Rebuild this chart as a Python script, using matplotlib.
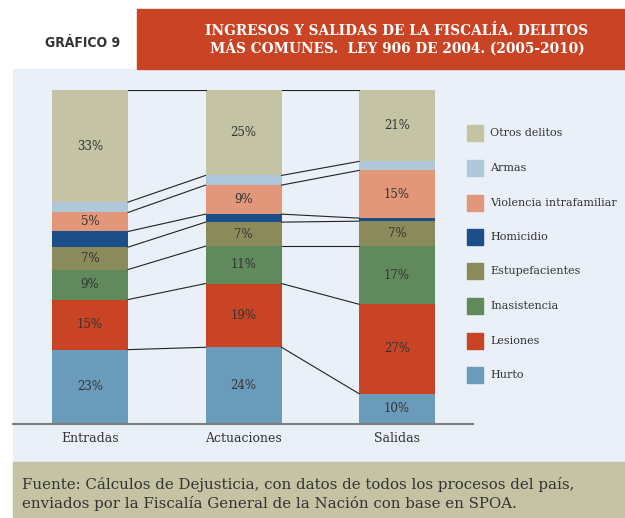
import numpy as np
import matplotlib
matplotlib.use('Agg')
import matplotlib.pyplot as plt
from matplotlib.patches import Rectangle

# Datos (porcentaje de cada delito por etapa)
categorias = ['Entradas', 'Actuaciones', 'Salidas']
delitos = ['Hurto', 'Lesiones', 'Inasistencia', 'Estupefacientes', 'Homicidio',
           'Violencia intrafamiliar', 'Armas', 'Otros delitos']
hurto = [22.2, 22.9, 9.0]
lesiones = [15.0, 19.1, 26.8]
inasistencia = [9.0, 11.2, 17.4]
estupefacientes = [6.7, 7.2, 7.5]
homicidio = [4.7, 2.4, 0.9]
violencia = [5.7, 8.7, 14.3]
armas = [3.1, 2.9, 2.7]
otros = [33.6, 25.6, 21.4]

etiquetas = [['23%', '24%', '10%'],
             ['15%', '19%', '27%'],
             ['9%', '11%', '17%'],
             ['7%', '7%', '7%'],
             ['', '', ''],
             ['5%', '9%', '15%'],
             ['', '', ''],
             ['33%', '25%', '21%']]

colores = ['#6A9BBB', '#C94424', '#608A5C', '#8B8A5A', '#1C4F8A',
           '#E2967A', '#AEC8DA', '#C4C3A4']

series = [hurto, lesiones, inasistencia, estupefacientes, homicidio,
          violencia, armas, otros]

W, H = 625, 518
fig = plt.figure(figsize=(W / 100, H / 100), dpi=100)
fig.patch.set_facecolor('white')

def px(x0, y0, x1, y1):
    # rectangulo en pixeles -> coordenadas de figura
    return [x0 / W, 1 - y1 / H, (x1 - x0) / W, (y1 - y0) / H]

serif = 'DejaVu Serif'

# fondo del panel y pie
fig.patches.append(Rectangle((13 / W, 1 - 462 / H), (W - 13) / W, (462 - 69) / H,
                             transform=fig.transFigure, color='#E9F0F7', zorder=-2))
fig.patches.append(Rectangle((13 / W, 0), (W - 13) / W, (518 - 462) / H,
                             transform=fig.transFigure, color='#C5C3A3', zorder=-2))
# caja del titulo
fig.patches.append(Rectangle((137 / W, 1 - 69 / H), (W - 137) / W, 60 / H,
                             transform=fig.transFigure, color='#C94424', zorder=-2))

fig.text(45 / W, 1 - 43 / H, 'GRÁFICO 9', fontsize=10, fontweight='bold',
         color='#333333', family='DejaVu Sans', fontstretch='condensed',
         va='center', ha='left')
fig.text(397 / W, 1 - 40 / H,
         'INGRESOS Y SALIDAS DE LA FISCALÍA. DELITOS\nMÁS COMUNES.  LEY 906 DE 2004. (2005-2010)',
         fontsize=11, fontweight='bold', color='white', family=serif,
         fontstretch='condensed', va='center', ha='center', linespacing=1.1)

fig.text(22 / W, 1 - 494 / H,
         'Fuente: Cálculos de Dejusticia, con datos de todos los procesos del país,\n'
         'enviados por la Fiscalía General de la Nación con base en SPOA.',
         fontsize=10.8, color='#333333', family=serif, va='center', ha='left',
         linespacing=1.3)

# ejes del grafico
ax = fig.add_axes(px(13, 90, 473, 423.7))
ax.set_zorder(5)
ax.set_facecolor('none')
ancho = 0.495
x = np.arange(len(categorias))
ax.set_xlim(-0.502, 2.495)
ax.set_ylim(0, 100)

base = np.zeros(len(categorias))
for vals, col, labs in zip(series, colores, etiquetas):
    vals = np.array(vals)
    ax.bar(x, vals, width=ancho, bottom=base, color=col, zorder=2)
    for i in range(len(x)):
        if labs[i]:
            ax.text(x[i], base[i] + vals[i] / 2, labs[i], ha='center', va='center',
                    fontsize=8.5, color='#333333', family=serif, zorder=3)
    top = base + vals
    for i in range(len(x) - 1):
        ax.plot([x[i] + ancho / 2, x[i + 1] - ancho / 2], [top[i], top[i + 1]],
                color='#222222', lw=0.8, zorder=3)
    base = top

for s in ['top', 'right', 'left']:
    ax.spines[s].set_visible(False)
ax.spines['bottom'].set_color('#7F7F7F')
ax.spines['bottom'].set_linewidth(1.5)
ax.spines['bottom'].set_zorder(4)
ax.set_yticks([])
ax.set_xticks(x)
ax.set_xticklabels(categorias, family=serif, fontsize=9, color='#333333')
ax.tick_params(axis='x', length=0, pad=6)

# leyenda manual
filas = [133, 168, 203, 237, 271, 306, 341, 375]
for nombre, col, y in zip(delitos[::-1], colores[::-1], filas):
    fig.patches.append(Rectangle((467 / W, 1 - (y + 8) / H), 16 / W, 16 / H,
                                 transform=fig.transFigure, color=col, zorder=2))
    fig.text(490 / W, 1 - y / H, nombre, fontsize=8, color='#333333',
             family=serif, va='center', ha='left')

fig.savefig('out.png', dpi=100)
